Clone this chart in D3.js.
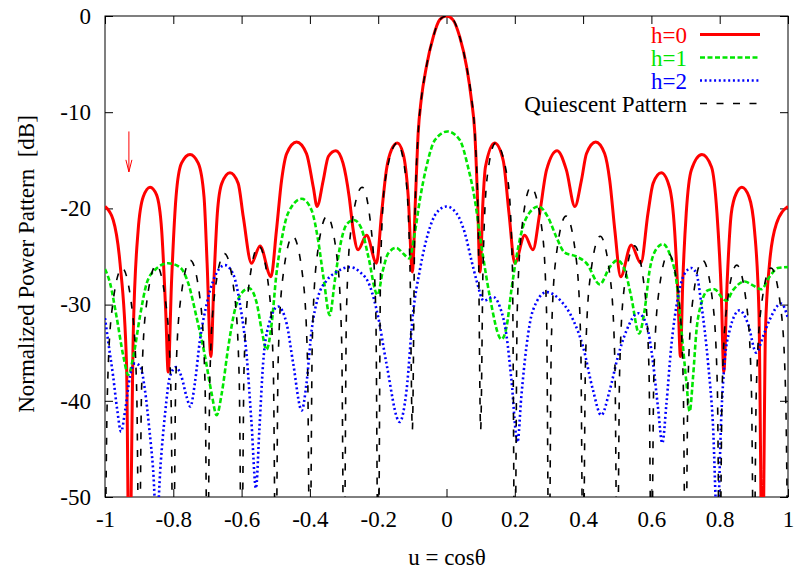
<!DOCTYPE html>
<html>
<head>
<meta charset="utf-8">
<script src="https://cdn.jsdelivr.net/npm/d3@7"></script>
<style>
  body { margin: 0; background: #fff; }
  svg { display: block; }
  text { font-family: "Liberation Serif", "Times New Roman", serif; font-size: 23px; fill: #000; }
</style>
</head>
<body>
<svg class="chart"></svg>
<script>
// DATA (u = cos theta, power in dB)
var xTicks = [-1, -0.8, -0.6, -0.4, -0.2, 0, 0.2, 0.4, 0.6, 0.8, 1];
var yTicks = [0, -10, -20, -30, -40, -50];
var seriesNames = ["h=0", "h=1", "h=2", "Quiescent Pattern"];

var h0 = [[-1.0,-19.8],[-0.976,-21.2],[-0.956,-25.7],[-0.937,-36.1],[-0.929,-60],[-0.917,-32.7],[-0.903,-22.3],[-0.888,-18.8],[-0.868,-17.8],[-0.849,-18.6],[-0.834,-22.3],[-0.822,-30.9],[-0.815,-37.0],[-0.805,-27.5],[-0.792,-18.8],[-0.776,-15.3],[-0.751,-14.4],[-0.727,-15.3],[-0.710,-18.8],[-0.701,-25.7],[-0.690,-35.4],[-0.681,-27.5],[-0.671,-20.5],[-0.658,-17.4],[-0.634,-16.3],[-0.610,-17.4],[-0.595,-20.9],[-0.571,-25.7],[-0.546,-23.9],[-0.514,-27.1],[-0.498,-22.3],[-0.483,-17.1],[-0.468,-14.3],[-0.439,-13.1],[-0.410,-14.3],[-0.390,-17.8],[-0.379,-19.8],[-0.361,-17.1],[-0.346,-14.6],[-0.324,-14.0],[-0.303,-15.3],[-0.285,-18.8],[-0.273,-22.3],[-0.259,-24.3],[-0.234,-22.8],[-0.205,-25.7],[-0.190,-20.5],[-0.176,-16.0],[-0.161,-13.9],[-0.144,-13.2],[-0.127,-14.3],[-0.112,-18.8],[-0.100,-26.6],[-0.091,-19.1],[-0.083,-12.2],[-0.074,-8.7],[-0.059,-5.3],[-0.039,-2.2],[-0.020,-0.4],[0,0],[0.019,-0.4],[0.039,-2.2],[0.059,-5.3],[0.073,-8.7],[0.083,-12.2],[0.091,-19.1],[0.098,-26.6],[0.107,-19.1],[0.114,-15.7],[0.141,-13.2],[0.166,-15.0],[0.183,-20.5],[0.200,-25.7],[0.229,-22.8],[0.253,-24.3],[0.273,-20.5],[0.293,-16.0],[0.324,-14.0],[0.351,-16.0],[0.376,-19.8],[0.395,-17.1],[0.410,-14.3],[0.437,-13.1],[0.463,-14.3],[0.478,-17.1],[0.493,-22.3],[0.510,-27.1],[0.541,-23.8],[0.569,-25.7],[0.590,-20.5],[0.605,-17.4],[0.629,-16.3],[0.653,-17.8],[0.668,-22.3],[0.678,-29.2],[0.685,-35.4],[0.692,-27.5],[0.702,-20.5],[0.717,-16.0],[0.748,-14.4],[0.776,-15.7],[0.792,-20.5],[0.805,-29.2],[0.812,-37.0],[0.822,-27.5],[0.834,-20.5],[0.849,-18.4],[0.865,-17.8],[0.886,-18.8],[0.902,-22.3],[0.915,-30.9],[0.925,-60],[0.934,-32.7],[0.946,-25.7],[0.966,-21.6],[1.0,-19.8]];

var h1 = [[-1.0,-26.3],[-0.985,-27.8],[-0.966,-31.3],[-0.946,-35.4],[-0.932,-37.3],[-0.917,-35.4],[-0.898,-31.3],[-0.878,-27.8],[-0.854,-26.4],[-0.815,-25.7],[-0.781,-26.1],[-0.756,-27.8],[-0.732,-31.3],[-0.707,-35.4],[-0.688,-39.2],[-0.673,-41.5],[-0.658,-39.2],[-0.639,-34.4],[-0.620,-30.6],[-0.600,-28.8],[-0.578,-28.3],[-0.556,-29.8],[-0.541,-32.7],[-0.527,-34.7],[-0.512,-32.0],[-0.498,-26.8],[-0.483,-23.3],[-0.464,-20.5],[-0.424,-19.0],[-0.395,-20.2],[-0.376,-23.3],[-0.359,-27.5],[-0.342,-31.1],[-0.327,-27.5],[-0.312,-24.0],[-0.293,-21.7],[-0.271,-21.2],[-0.249,-22.1],[-0.229,-25.0],[-0.202,-29.0],[-0.186,-26.4],[-0.171,-24.7],[-0.147,-24.1],[-0.127,-24.7],[-0.109,-25.2],[-0.093,-22.6],[-0.078,-19.1],[-0.059,-15.7],[-0.034,-12.9],[0.003,-12.0],[0.039,-12.9],[0.063,-15.7],[0.083,-19.1],[0.097,-22.6],[0.112,-26.1],[0.127,-29.2],[0.161,-33.6],[0.176,-32.3],[0.190,-28.5],[0.205,-25.0],[0.224,-21.9],[0.244,-20.4],[0.270,-19.8],[0.297,-20.9],[0.322,-23.0],[0.346,-24.6],[0.380,-25.0],[0.410,-25.7],[0.449,-27.9],[0.478,-26.1],[0.500,-25.4],[0.522,-26.4],[0.541,-29.2],[0.564,-33.0],[0.580,-30.6],[0.595,-26.4],[0.613,-24.3],[0.634,-23.7],[0.653,-24.7],[0.673,-27.5],[0.688,-32.7],[0.702,-37.9],[0.712,-41.1],[0.722,-37.5],[0.732,-32.7],[0.746,-29.9],[0.766,-28.5],[0.785,-28.4],[0.805,-29.2],[0.819,-29.6],[0.839,-28.5],[0.873,-27.6],[0.897,-28.0],[0.922,-28.4],[0.946,-27.1],[0.970,-26.2],[1.0,-26.1]];

var h2 = [[-1.0,-31.4],[-0.990,-34.0],[-0.976,-37.5],[-0.964,-41.0],[-0.953,-43.2],[-0.941,-41.0],[-0.927,-37.5],[-0.912,-36.1],[-0.896,-36.5],[-0.883,-38.9],[-0.870,-43.0],[-0.859,-47.2],[-0.849,-53],[-0.837,-46.5],[-0.824,-41.3],[-0.810,-37.5],[-0.792,-36.5],[-0.776,-37.5],[-0.761,-39.6],[-0.750,-40.6],[-0.737,-38.2],[-0.722,-33.7],[-0.702,-29.9],[-0.683,-27.5],[-0.649,-25.9],[-0.625,-26.8],[-0.605,-29.9],[-0.585,-35.4],[-0.571,-42.3],[-0.558,-49.1],[-0.548,-43.0],[-0.537,-36.1],[-0.522,-32.3],[-0.493,-30.2],[-0.468,-32.0],[-0.449,-36.1],[-0.424,-41.0],[-0.410,-38.2],[-0.395,-32.7],[-0.376,-29.2],[-0.351,-27.5],[-0.322,-26.6],[-0.283,-26.1],[-0.254,-26.6],[-0.224,-28.1],[-0.200,-31.3],[-0.176,-36.1],[-0.137,-42.2],[-0.117,-38.9],[-0.098,-30.9],[-0.078,-26.4],[-0.054,-22.6],[-0.030,-20.5],[0,-19.8],[0.029,-20.5],[0.054,-22.6],[0.073,-25.4],[0.088,-27.5],[0.109,-29.6],[0.136,-29.2],[0.156,-30.2],[0.176,-33.3],[0.190,-37.8],[0.208,-44.3],[0.219,-39.6],[0.234,-34.4],[0.253,-30.6],[0.293,-28.7],[0.332,-29.5],[0.371,-31.6],[0.400,-34.4],[0.429,-38.9],[0.453,-41.5],[0.478,-38.9],[0.502,-35.4],[0.527,-32.7],[0.561,-30.9],[0.585,-32.0],[0.605,-36.1],[0.619,-40.6],[0.632,-44.4],[0.644,-40.3],[0.658,-34.4],[0.678,-29.2],[0.697,-26.8],[0.717,-26.2],[0.732,-26.8],[0.746,-29.9],[0.766,-36.1],[0.780,-42.3],[0.793,-53],[0.805,-41.3],[0.814,-36.1],[0.829,-32.7],[0.858,-30.6],[0.883,-32.0],[0.907,-35.0],[0.927,-33.3],[0.946,-31.6],[0.980,-29.9],[1.0,-31.4]];

var quiescent = [[-1.0,-60],[-0.993,-39.2],[-0.98,-30.7],[-0.95,-26.2],[-0.92,-30.7],[-0.907,-39.2],
  [-0.9,-60],[-0.893,-38.9],[-0.88,-30.4],[-0.85,-25.9],[-0.82,-30.4],[-0.807,-38.9],
  [-0.8,-60],[-0.793,-38.4],[-0.78,-29.9],[-0.75,-25.4],[-0.72,-29.9],[-0.707,-38.4],
  [-0.7,-60],[-0.693,-37.7],[-0.68,-29.2],[-0.65,-24.7],[-0.62,-29.2],[-0.607,-37.7],
  [-0.6,-60],[-0.593,-36.9],[-0.58,-28.4],[-0.55,-23.9],[-0.52,-28.4],[-0.507,-36.9],
  [-0.5,-60],[-0.493,-35.9],[-0.48,-27.4],[-0.45,-22.9],[-0.42,-27.4],[-0.407,-35.9],
  [-0.4,-60],[-0.393,-33.8],[-0.38,-25.3],[-0.35,-20.8],[-0.32,-25.3],[-0.307,-33.8],
  [-0.3,-60],[-0.293,-30.8],[-0.28,-22.3],[-0.247,-17.8],[-0.22,-22.3],[-0.207,-30.8],
  [-0.2,-60],[-0.193,-26.2],[-0.18,-17.2],[-0.144,-13.2],[-0.12,-16.5],[-0.107,-26.0],
  [-0.1,-43],[-0.093,-22.0],[-0.083,-12.2],[-0.074,-8.7],[-0.059,-5.3],[-0.039,-2.2],[-0.02,-0.4],
  [0,0],
  [0.02,-0.4],[0.039,-2.2],[0.059,-5.3],[0.074,-8.7],[0.083,-12.2],[0.093,-22.0],[0.1,-43],
  [0.107,-26.0],[0.12,-16.5],[0.144,-13.2],[0.18,-17.2],[0.193,-26.2],[0.2,-60],
  [0.207,-30.8],[0.22,-22.3],[0.247,-17.8],[0.28,-22.3],[0.293,-30.8],[0.3,-60],
  [0.307,-33.8],[0.32,-25.3],[0.35,-20.8],[0.38,-25.3],[0.393,-33.8],[0.4,-60],
  [0.407,-35.9],[0.42,-27.4],[0.45,-22.9],[0.48,-27.4],[0.493,-35.9],[0.5,-60],
  [0.507,-36.9],[0.52,-28.4],[0.55,-23.9],[0.58,-28.4],[0.593,-36.9],[0.6,-60],
  [0.607,-37.7],[0.62,-29.2],[0.65,-24.7],[0.68,-29.2],[0.693,-37.7],[0.7,-60],
  [0.707,-38.4],[0.72,-29.9],[0.75,-25.4],[0.78,-29.9],[0.793,-38.4],[0.8,-60],
  [0.807,-38.9],[0.82,-30.4],[0.85,-25.9],[0.88,-30.4],[0.893,-38.9],[0.9,-60],
  [0.907,-39.2],[0.92,-30.7],[0.95,-26.2],[0.98,-30.7],[0.993,-39.2],[1.0,-60]];

// jammer marker: u position and arrow start / end in dB
var jammerU = -0.93;
var jammerArrow = [-12.0, -16.2];

// STYLES
var styles = [
  {color: "#ff0000", width: 3,   dash: null},
  {color: "#00e600", width: 2.6, dash: "5,2.5"},
  {color: "#0000ff", width: 2.6, dash: "2,2.7"},
  {color: "#000000", width: 1.6, dash: "7,9.5"}
];

var margin = {top: 16, right: 10, bottom: 74, left: 105},
    width = 798 - margin.left - margin.right,
    height = 571 - margin.top - margin.bottom;

var svg = d3.select(".chart")
    .attr("width", 798)
    .attr("height", 571);

var g = svg.append("g")
    .attr("transform", "translate(" + margin.left + "," + margin.top + ")");

var x = d3.scaleLinear().domain([-1, 1]).range([0, width]);
var y = d3.scaleLinear().domain([-50, 0]).range([height, 0]);

// CLIP
svg.append("defs").append("clipPath").attr("id", "plotclip")
  .append("rect").attr("width", width).attr("height", height);

// AXES (ticks inward, mirrored)
var fmt = function(d) { return String(d); };

var xb = g.append("g").attr("transform", "translate(0," + height + ")")
    .call(d3.axisBottom(x).tickValues(xTicks).tickSize(-8).tickPadding(14).tickFormat(fmt));
var xt = g.append("g")
    .call(d3.axisTop(x).tickValues(xTicks).tickSize(-8).tickFormat(""));
var yl = g.append("g")
    .call(d3.axisLeft(y).tickValues(yTicks).tickSize(-8).tickPadding(14).tickFormat(fmt));
var yr = g.append("g").attr("transform", "translate(" + width + ",0)")
    .call(d3.axisRight(y).tickValues(yTicks).tickSize(-8).tickFormat(""));

[xb, xt, yl, yr].forEach(function(a) {
  a.attr("font-family", null).attr("font-size", null);
  a.select(".domain").remove();
});

g.append("rect")
    .attr("width", width).attr("height", height)
    .attr("fill", "none").attr("stroke", "#000").attr("stroke-width", 1);

// CURVES
var line = d3.line()
    .x(function(d) { return x(d[0]); })
    .y(function(d) { return y(d[1]); })
    .curve(d3.curveMonotoneX);

var plots = g.append("g").attr("clip-path", "url(#plotclip)");
[h0, h1, h2, quiescent].forEach(function(s, i) {
  plots.append("path")
      .datum(s)
      .attr("fill", "none")
      .attr("stroke", styles[i].color)
      .attr("stroke-width", styles[i].width)
      .attr("stroke-dasharray", styles[i].dash)
      .attr("stroke-linejoin", "round")
      .attr("d", line);
});

// JAMMER ARROW
var ax = x(jammerU), ay0 = y(jammerArrow[0]), ay1 = y(jammerArrow[1]);
g.append("path")
    .attr("fill", "none").attr("stroke", "#ff0000").attr("stroke-width", 1)
    .attr("d", "M" + ax + "," + ay0 + "V" + ay1 + "M" + (ax - 3) + "," + (ay1 - 12) + "L" + ax + "," + ay1 + "L" + (ax + 3) + "," + (ay1 - 12));

// LEGEND
var legend = g.append("g").attr("class", "legend");
seriesNames.forEach(function(name, i) {
  var ly = 18.5 + i * 23;
  legend.append("text")
      .attr("x", 582).attr("y", ly).attr("dy", "0.35em")
      .attr("text-anchor", "end")
      .style("fill", styles[i].color)
      .text(name);
  legend.append("line")
      .attr("x1", 595).attr("x2", 655).attr("y1", ly).attr("y2", ly)
      .attr("stroke", styles[i].color)
      .attr("stroke-width", styles[i].width)
      .attr("stroke-dasharray", styles[i].dash);
});

// AXIS LABELS
svg.append("text")
    .attr("x", 447).attr("y", 557).attr("dy", "0.35em")
    .attr("text-anchor", "middle")
    .text("u = cos\u03b8");

svg.append("text")
    .attr("transform", "translate(34,264) rotate(-90)")
    .attr("text-anchor", "middle")
    .style("white-space", "pre")
    .text("Normalized Power Pattern  [dB]");
</script>
</body>
</html>
